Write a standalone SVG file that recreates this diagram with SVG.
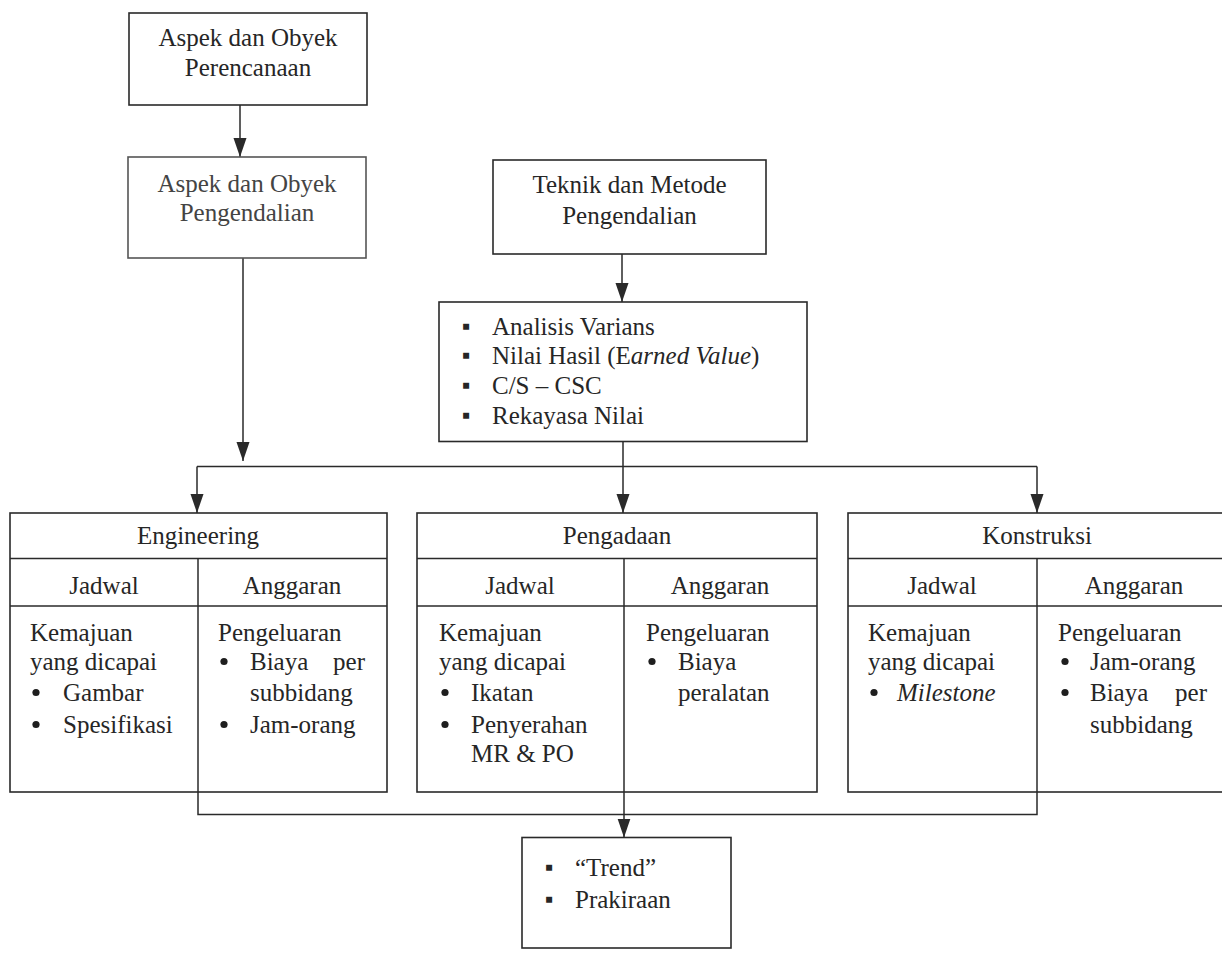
<svg xmlns="http://www.w3.org/2000/svg" width="1222" height="960" viewBox="0 0 1222 960">
<defs>
<style>
.box{fill:none;stroke:#2a2a2a;stroke-width:1.6}
.ln{fill:none;stroke:#2a2a2a;stroke-width:1.5}
.t{font-family:"Liberation Serif","Times New Roman",serif;font-size:25px;fill:#262626}
.c{text-anchor:middle}
.it{font-style:italic}
.dot{fill:#1e1e1e}
.sq{font-family:"Liberation Sans","DejaVu Sans",sans-serif;font-size:24px;fill:#262626}
</style>
<marker id="ah" markerUnits="userSpaceOnUse" markerWidth="20" markerHeight="14" refX="19" refY="6.5" orient="auto" viewBox="0 0 20 13">
<path d="M0,0 L19,6.5 L0,13 z" fill="#2a2a2a"/>
</marker>
</defs>
<rect width="1222" height="960" fill="#ffffff"/>

<g id="connectors">
<line class="ln" x1="240" y1="105" x2="240" y2="157" marker-end="url(#ah)"/>
<line class="ln" x1="622" y1="254" x2="622" y2="302" marker-end="url(#ah)"/>
<line class="ln" x1="243" y1="258" x2="243" y2="461" marker-end="url(#ah)"/>
<line class="ln" x1="197" y1="466.5" x2="1037" y2="466.5"/>
<line class="ln" x1="197" y1="466.5" x2="197" y2="513" marker-end="url(#ah)"/>
<line class="ln" x1="1037" y1="466.5" x2="1037" y2="513" marker-end="url(#ah)"/>
<line class="ln" x1="623" y1="441.5" x2="623" y2="513" marker-end="url(#ah)"/>
<polyline class="ln" points="198,792 198,814.5 1037,814.5 1037,792"/>
<line class="ln" x1="624" y1="792" x2="624" y2="837.5" marker-end="url(#ah)"/>
</g>

<g id="node-perencanaan">
<rect class="box" x="129" y="13" width="238" height="92"/>
<text class="t c" x="248" y="46">Aspek dan Obyek</text>
<text class="t c" x="248" y="76">Perencanaan</text>
</g>

<g id="node-pengendalian">
<rect class="box" x="128" y="157" width="238" height="101" style="stroke:#555"/>
<text class="t c" x="247" y="192" style="fill:#444">Aspek dan Obyek</text>
<text class="t c" x="247" y="221" style="fill:#444">Pengendalian</text>
</g>

<g id="node-teknik">
<rect class="box" x="493" y="160" width="273" height="94"/>
<text class="t c" x="629.5" y="193">Teknik dan Metode</text>
<text class="t c" x="629.5" y="224">Pengendalian</text>
</g>

<g id="node-analisis">
<rect class="box" x="439" y="302" width="368" height="139.5"/>
<text class="sq" x="462" y="334">▪</text>
<text class="t" x="492" y="335">Analisis Varians</text>
<text class="sq" x="462" y="363">▪</text>
<text class="t" x="492" y="364">Nilai Hasil (E<tspan class="it">arned Value</tspan>)</text>
<text class="sq" x="462" y="393">▪</text>
<text class="t" x="492" y="394">C/S – CSC</text>
<text class="sq" x="462" y="423">▪</text>
<text class="t" x="492" y="424">Rekayasa Nilai</text>
</g>

<g id="node-engineering">
<rect class="box" x="10" y="513" width="377" height="279"/>
<line class="ln" x1="10" y1="558.5" x2="387" y2="558.5"/>
<line class="ln" x1="10" y1="606" x2="387" y2="606"/>
<line class="ln" x1="198" y1="558.5" x2="198" y2="792"/>
<text class="t c" x="198" y="544">Engineering</text>
<text class="t c" x="104" y="594">Jadwal</text>
<text class="t c" x="292" y="594">Anggaran</text>
<text class="t" x="30" y="640.5">Kemajuan</text>
<text class="t" x="30" y="669.5">yang dicapai</text>
<circle class="dot" cx="36" cy="692.5" r="3.6"/>
<text class="t" x="63" y="700.5">Gambar</text>
<circle class="dot" cx="36" cy="724.5" r="3.6"/>
<text class="t" x="63" y="732.5">Spesifikasi</text>
<text class="t" x="218" y="640.5">Pengeluaran</text>
<circle class="dot" cx="224" cy="661.5" r="3.6"/>
<text class="t" y="669.5"><tspan x="250">Biaya</tspan><tspan x="365" text-anchor="end">per</tspan></text>
<text class="t" x="250" y="700.5">subbidang</text>
<circle class="dot" cx="224" cy="724.5" r="3.6"/>
<text class="t" x="250" y="732.5">Jam-orang</text>
</g>

<g id="node-pengadaan">
<rect class="box" x="417" y="513" width="400" height="279"/>
<line class="ln" x1="417" y1="558.5" x2="817" y2="558.5"/>
<line class="ln" x1="417" y1="606" x2="817" y2="606"/>
<line class="ln" x1="624" y1="558.5" x2="624" y2="792"/>
<text class="t c" x="617" y="544">Pengadaan</text>
<text class="t c" x="520" y="594">Jadwal</text>
<text class="t c" x="720" y="594">Anggaran</text>
<text class="t" x="439" y="640.5">Kemajuan</text>
<text class="t" x="439" y="669.5">yang dicapai</text>
<circle class="dot" cx="445" cy="692.5" r="3.6"/>
<text class="t" x="471" y="700.5">Ikatan</text>
<circle class="dot" cx="445" cy="724.5" r="3.6"/>
<text class="t" x="471" y="732.5">Penyerahan</text>
<text class="t" x="471" y="761.5">MR &amp; PO</text>
<text class="t" x="646" y="640.5">Pengeluaran</text>
<circle class="dot" cx="652" cy="661.5" r="3.6"/>
<text class="t" x="678" y="669.5">Biaya</text>
<text class="t" x="678" y="700.5">peralatan</text>
</g>

<g id="node-konstruksi">
<rect class="box" x="848" y="513" width="400" height="279"/>
<line class="ln" x1="848" y1="558.5" x2="1222" y2="558.5"/>
<line class="ln" x1="848" y1="606" x2="1222" y2="606"/>
<line class="ln" x1="1037" y1="558.5" x2="1037" y2="792"/>
<text class="t c" x="1037" y="544">Konstruksi</text>
<text class="t c" x="942" y="594">Jadwal</text>
<text class="t c" x="1134" y="594">Anggaran</text>
<text class="t" x="868" y="640.5">Kemajuan</text>
<text class="t" x="868" y="669.5">yang dicapai</text>
<circle class="dot" cx="874" cy="692.5" r="3.6"/>
<text class="t it" x="897" y="700.5">Milestone</text>
<text class="t" x="1058" y="640.5">Pengeluaran</text>
<circle class="dot" cx="1065" cy="661.5" r="3.6"/>
<text class="t" x="1090" y="669.5">Jam-orang</text>
<circle class="dot" cx="1065" cy="692.5" r="3.6"/>
<text class="t" y="700.5"><tspan x="1090">Biaya</tspan><tspan x="1207" text-anchor="end">per</tspan></text>
<text class="t" x="1090" y="732.5">subbidang</text>
</g>

<g id="node-trend">
<rect class="box" x="522" y="837.5" width="209" height="110.5"/>
<text class="sq" x="545" y="875">▪</text>
<text class="t" x="575" y="876">“Trend”</text>
<text class="sq" x="545" y="907">▪</text>
<text class="t" x="575" y="908">Prakiraan</text>
</g>
</svg>
